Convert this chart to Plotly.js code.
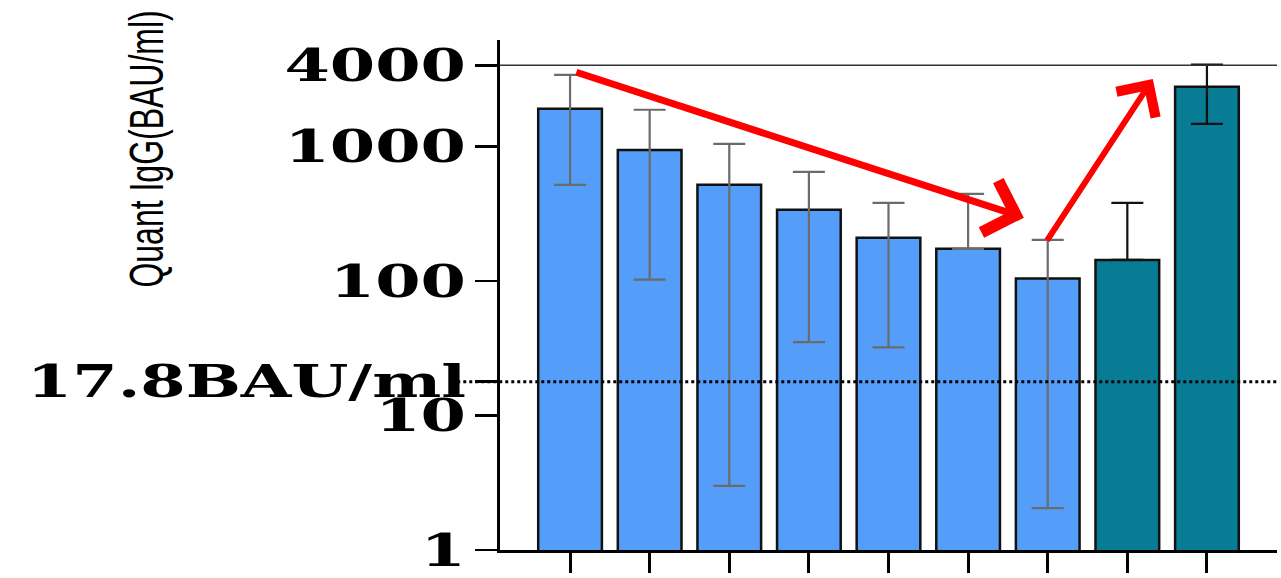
<!DOCTYPE html>
<html>
<head>
<meta charset="utf-8">
<script src="https://cdn.plot.ly/plotly-3.0.1.min.js"></script>
<style>
html,body{margin:0;padding:0;background:#fff;}
#chart{width:1281px;height:578px;}
</style>
</head>
<body>
<div id="chart"></div>
<script>
// Data (log scale, BAU/ml)
const groupIdx = [0,1,2,3,4,5,6,7,8];
const blueX = [0,1,2,3,4,5,6];
const blueMean = [1900, 940, 517, 337, 209, 173, 104];
const blueUpper = [3400, 1870, 1044, 646, 380, 443, 202];
const blueLower = [517, 102, 3.0, 35, 32, 173, 2.05];
const tealX = [7,8];
const tealMean = [143, 2770];
const tealUpper = [380, 4040];
const tealLower = [143, 1470];
const yTickVals = [1, 10, 17.8, 100, 1000, 4000];
const yTickText = ['1', '10', '17.8BAU/ml', '100', '1000', '4000'];
const refTop = 4000;
const threshold = 17.8;
const yTitle = 'Quant IgG(BAU/ml)';

const plus = (m, u) => m.map((v, i) => u[i] - v);
const minus = (m, l) => m.map((v, i) => v - l[i]);

const traces = [
  {
    type: 'bar', x: blueX, y: blueMean, width: 0.8,
    marker: {color: '#549ef9', line: {color: '#111', width: 2.5}},
    error_y: {type: 'data', symmetric: false, array: plus(blueMean, blueUpper),
      arrayminus: minus(blueMean, blueLower), color: '#6b6b6b', thickness: 2.2, width: 16},
    showlegend: false, hoverinfo: 'skip'
  },
  {
    type: 'bar', x: tealX, y: tealMean, width: 0.8,
    marker: {color: '#087c94', line: {color: '#111', width: 2.5}},
    error_y: {type: 'data', symmetric: false, array: plus(tealMean, tealUpper),
      arrayminus: minus(tealMean, tealLower), color: '#111', thickness: 2.2, width: 16},
    showlegend: false, hoverinfo: 'skip'
  }
];

const layout = {
  width: 1281, height: 578,
  margin: {l: 500, r: 4, t: 40, b: 28},
  paper_bgcolor: '#fff', plot_bgcolor: '#fff',
  barmode: 'overlay',
  xaxis: {
    range: [-0.88, 8.88], tickvals: groupIdx, showticklabels: false,
    ticks: 'outside', ticklen: 20, tickwidth: 3, tickcolor: '#000',
    showline: true, linecolor: '#000', linewidth: 3, showgrid: false, zeroline: false
  },
  yaxis: {
    type: 'log', range: [0, 3.79],
    tickvals: yTickVals, ticktext: yTickText,
    ticks: 'outside', ticklen: 22, tickwidth: 2.5, tickcolor: '#000',
    tickfont: {family: 'DejaVu Serif', size: 45, color: '#000', weight: 'bold'},
    showline: true, linecolor: '#000', linewidth: 3, showgrid: false, zeroline: false
  },
  shapes: [
    {type: 'line', xref: 'paper', x0: 0, x1: 1, yref: 'y', y0: refTop, y1: refTop,
     line: {color: '#333', width: 1.5}},
    {type: 'line', xref: 'paper', x0: -0.055, x1: 1, yref: 'y', y0: threshold, y1: threshold,
     line: {color: '#000', width: 3, dash: 'dot'}}
  ],
  annotations: [
    {text: yTitle, xref: 'paper', yref: 'paper', x: -0.455, y: 0.786, textangle: -90,
     showarrow: false, xanchor: 'center', yanchor: 'middle',
     font: {family: 'Liberation Sans', size: 32, color: '#000'}},
    {x: 5.70, y: 2.47, xref: 'x', yref: 'y', ax: 0.06, ay: 3.554, axref: 'x', ayref: 'y',
     text: '', showarrow: true, arrowhead: 4, arrowsize: 1.5, arrowwidth: 7, arrowcolor: '#ff0000'},
    {x: 7.32, y: 3.50, xref: 'x', yref: 'y', ax: 5.98, ay: 2.29, axref: 'x', ayref: 'y',
     text: '', showarrow: true, arrowhead: 4, arrowsize: 1.5, arrowwidth: 6, arrowcolor: '#ff0000'}
  ]
};

Plotly.newPlot('chart', traces, layout, {displayModeBar: false, staticPlot: true}).then(function (gd) {
  // the reference picture is stretched horizontally: widen the text glyphs the same way
  const sx = 1.45;
  gd.querySelectorAll('.ytick text').forEach(function (el) {
    const bb = el.getBBox();
    const right = bb.x + bb.width;
    const t = el.getAttribute('transform') || '';
    el.setAttribute('transform', t + ' translate(' + right + ',0) scale(' + sx + ',1) translate(' + (-right) + ',0)');
  });
  const ann = gd.querySelectorAll('.annotation')[0];
  if (ann) {
    const bb = ann.getBBox();
    const cx = bb.x + bb.width / 2;
    ann.setAttribute('transform', 'translate(' + cx + ',0) scale(1.5,1) translate(' + (-cx) + ',0)');
  }
});
</script>
</body>
</html>
